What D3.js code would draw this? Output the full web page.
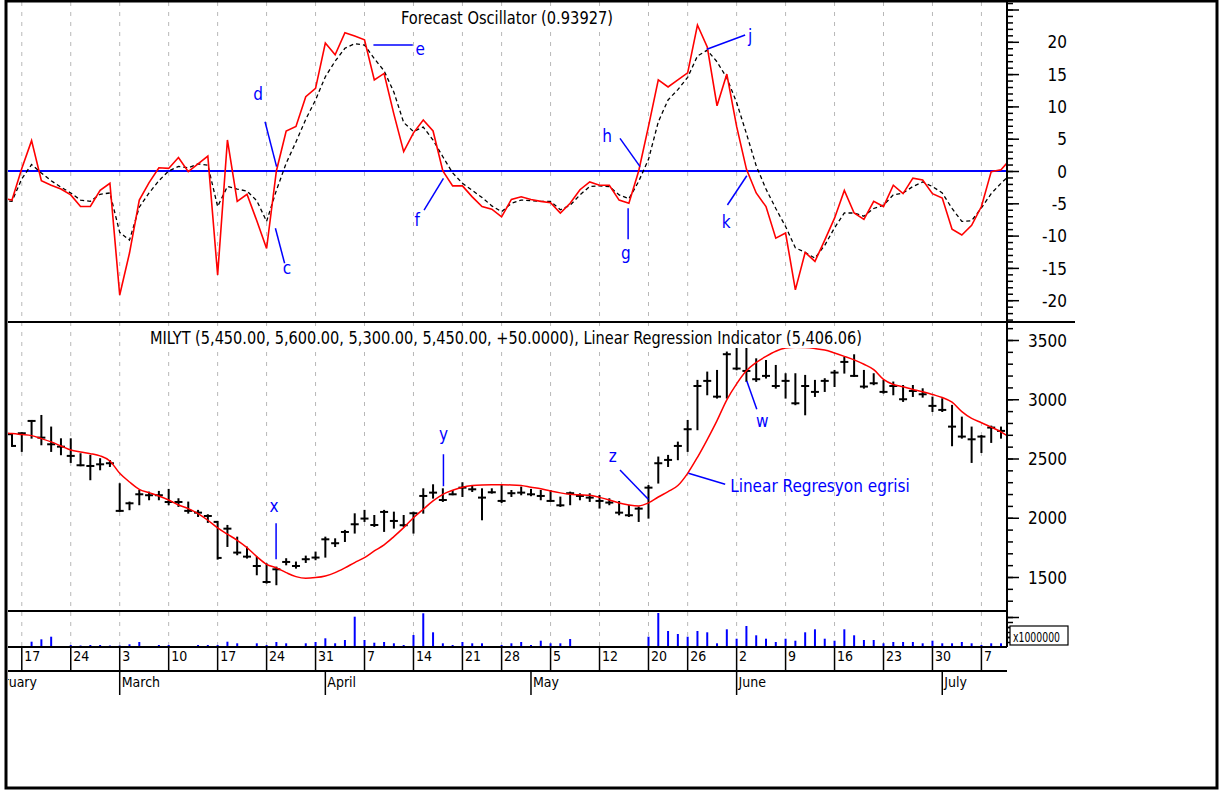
<!DOCTYPE html>
<html>
<head>
<meta charset="utf-8">
<script src="https://cdn.jsdelivr.net/npm/d3@7"></script>
<style>
    html, body { margin: 0; padding: 0; background: #ffffff; }
    svg { display: block; }
    text { font-family: 'Liberation Sans Narrow', 'DejaVu Sans Condensed', 'Arial Narrow', sans-serif; fill: #000; }
</style>
</head>
<body>
<svg id="chart" width="1219" height="790"></svg>
<script>
// ---- trading calendar ----
const startDate = '2003-02-13';
const endDate = '2003-07-10';
const holidays = ['2003-04-23', '2003-05-19'];

// ---- Forecast Oscillator (red) and its dashed signal line ----
const forecastOsc = [
    -4.2, -4.5, 0.4, 4.7, -1.5, -2.2, -2.8, -3.7, -5.5, -5.5,
    -3.0, -1.9, -19.2, -12.7, -4.5, -1.8, 0.5, 0.4, 2.1, -0.1,
    1.1, 2.3, -16.1, 4.8, -4.7, -3.6, -7.7, -12.0, 0.0, 6.2,
    6.9, 11.5, 12.8, 19.8, 18.0, 21.4, 20.9, 20.3, 14.1, 15.1,
    8.8, 3.0, 5.9, 7.9, 6.2, 0.0, -2.3, -2.3, -4.0, -5.5,
    -5.9, -7.1, -4.4, -4.0, -4.4, -4.7, -4.9, -6.5, -5.0, -2.9,
    -1.7, -2.2, -2.2, -4.5, -5.0, 0.0, 6.9, 14.1, 13.0, 14.1,
    15.2, 22.6, 19.2, 10.1, 15.0, 6.9, 0.3, -3.4, -5.5, -10.4,
    -9.6, -18.4, -12.6, -14.0, -10.7, -7.3, -3.0, -6.5, -7.5, -4.7,
    -5.5, -2.2, -3.5, -1.1, -1.4, -3.5, -4.2, -9.0, -9.9, -8.4,
    -5.5, -0.1, 0.2, 1.9
];
const oscSignal = [
    -4.6, -4.7, -1.2, 1.0, -0.3, -1.5, -2.5, -3.4, -4.5, -4.7,
    -3.6, -3.4, -9.5, -10.7, -5.6, -3.4, -1.5, 0.0, 0.7, 0.5,
    1.1, 0.9, -5.5, -2.4, -2.8, -3.1, -4.6, -7.8, -3.0, 1.2,
    4.5, 8.0, 11.0, 14.6, 17.0, 19.0, 19.7, 19.5, 17.4, 15.5,
    12.2, 7.5, 6.1, 6.8, 4.8, 2.2, -0.3, -1.9, -3.0, -4.1,
    -5.4, -6.3, -5.0, -4.5, -4.6, -4.7, -4.7, -6.0, -5.3, -3.7,
    -2.4, -2.3, -2.4, -3.7, -4.3, -1.6, 1.8, 7.6, 11.0, 12.6,
    14.5, 17.8, 18.7, 16.9, 14.4, 10.6, 5.8, 0.8, -2.8, -5.8,
    -8.6, -11.9, -12.6, -13.5, -11.5, -8.8, -6.5, -6.5, -7.0, -5.8,
    -5.3, -3.7, -3.4, -2.4, -1.7, -2.4, -3.4, -5.8, -7.8, -7.7,
    -5.7, -3.5, -1.9, -0.5
];

// ---- MILYT price bars ----
const priceHigh = [
    2720, 2705, 2713, 2817, 2859, 2761, 2662, 2662, 2536, 2522,
    2494, 2479, 2283, 2128, 2226, 2212, 2218, 2235, 2156, 2128,
    2058, 2021, 1965, 1931, 1832, 1748, 1664, 1607, 1579, 1650,
    1622, 1672, 1706, 1832, 1818, 1889, 2029, 2058, 2015, 2058,
    2043, 2015, 2043, 2240, 2274, 2240, 2226, 2291, 2268, 2240,
    2240, 2268, 2226, 2254, 2235, 2226, 2226, 2170, 2212, 2198,
    2198, 2184, 2156, 2133, 2100, 2086, 2268, 2508, 2522, 2634,
    2817, 3155, 3225, 3239, 3394, 3450, 3464, 3337, 3323, 3281,
    3211, 3211, 3197, 3155, 3169, 3239, 3351, 3371, 3239, 3211,
    3155, 3141, 3112, 3112, 3084, 3014, 3000, 2944, 2845, 2761,
    2690, 2769, 2761, 2760
];
const priceLow = [
    2640, 2606, 2564, 2676, 2620, 2564, 2536, 2471, 2443, 2325,
    2409, 2437, 2058, 2072, 2114, 2156, 2156, 2114, 2100, 2043,
    2015, 1965, 1655, 1762, 1692, 1664, 1523, 1453, 1439, 1607,
    1579, 1627, 1650, 1672, 1762, 1804, 1875, 1973, 1931, 1889,
    1917, 1931, 1875, 2043, 2170, 2142, 2198, 2184, 2226, 1987,
    2212, 2133, 2184, 2198, 2190, 2156, 2142, 2100, 2114, 2156,
    2142, 2086, 2114, 2029, 2015, 1973, 2001, 2297, 2437, 2494,
    2564, 2747, 3042, 3014, 3014, 3253, 3155, 3155, 3183, 3098,
    3014, 2958, 2873, 3028, 3070, 3112, 3225, 3197, 3098, 3127,
    3056, 3042, 2986, 3028, 3022, 2901, 2901, 2612, 2676, 2471,
    2555, 2640, 2676, 2680
];
const priceClose = [
    2700, 2606, 2713, 2817, 2676, 2620, 2600, 2522, 2443, 2437,
    2451, 2460, 2058, 2122, 2198, 2190, 2190, 2133, 2133, 2058,
    2043, 2015, 1661, 1908, 1706, 1672, 1593, 1458, 1565, 1627,
    1593, 1650, 1664, 1818, 1785, 1880, 1945, 1993, 1939, 2049,
    1973, 1937, 2038, 2184, 2212, 2150, 2198, 2254, 2240, 2170,
    2215, 2142, 2207, 2212, 2198, 2184, 2142, 2105, 2207, 2184,
    2170, 2142, 2128, 2043, 2021, 2077, 2254, 2460, 2488, 2606,
    2747, 3112, 3155, 3022, 3380, 3259, 3239, 3169, 3197, 3112,
    3155, 2966, 3112, 3062, 3155, 3225, 3315, 3197, 3107, 3135,
    3062, 3112, 3000, 3070, 3042, 2944, 2910, 2769, 2685, 2662,
    2685, 2761, 2733, 2740
];
const priceOpen = [
    2700, 2705, 2713, 2817, 2676, 2620, 2600, 2522, 2443, 2437,
    2451, 2460, 2058, 2122, 2198, 2190, 2190, 2133, 2133, 2058,
    2043, 2015, 1965, 1908, 1706, 1672, 1593, 1458, 1565, 1627,
    1593, 1650, 1664, 1818, 1785, 1880, 1945, 1993, 1939, 2049,
    1973, 1937, 2038, 2184, 2212, 2150, 2198, 2254, 2240, 2170,
    2215, 2142, 2207, 2212, 2198, 2184, 2142, 2105, 2207, 2184,
    2170, 2142, 2128, 2043, 2021, 2077, 2254, 2460, 2488, 2606,
    2747, 3112, 3155, 3022, 3380, 3259, 3239, 3169, 3197, 3112,
    3155, 2966, 3112, 3062, 3155, 3225, 3315, 3197, 3107, 3135,
    3062, 3112, 3000, 3070, 3042, 2944, 2910, 2769, 2685, 2662,
    2685, 2761, 2733, 2740
];
const linReg = [
    2715, 2710, 2702, 2693, 2668, 2640, 2606, 2572, 2555, 2541,
    2522, 2479, 2375, 2302, 2240, 2212, 2184, 2150, 2108, 2077,
    2035, 1979, 1914, 1861, 1810, 1748, 1672, 1607, 1577, 1537,
    1503, 1489, 1495, 1509, 1537, 1577, 1622, 1664, 1720, 1771,
    1841, 1917, 2000, 2072, 2142, 2198, 2232, 2258, 2272, 2277,
    2278, 2278, 2277, 2272, 2258, 2245, 2226, 2210, 2198, 2194,
    2190, 2172, 2150, 2124, 2108, 2100, 2125, 2175, 2220, 2272,
    2375, 2510, 2660, 2820, 2995, 3130, 3240, 3310, 3362, 3405,
    3432, 3438, 3436, 3428, 3415, 3390, 3362, 3332, 3295, 3250,
    3168, 3125, 3105, 3083, 3064, 3040, 3015, 2975, 2895, 2838,
    2802, 2765, 2725, 2670
];
// volume, in millions
const volume = [
    0, 0.3, 0.3, 5.3, 7.7, 10.3, 0.5, 2, 1.5, 2,
    2, 1.5, 1.5, 2.7, 5, 0.5, 2, 2, 0.5, 0.5,
    2, 2, 2, 5.3, 3.7, 0.5, 3.7, 2, 5, 3.7,
    0.5, 3.7, 5, 8.7, 3.7, 7, 30.3, 7, 4.3, 5,
    3.7, 2, 12, 33.7, 14.7, 3.7, 2, 5, 3.7, 3.7,
    0.5, 2, 3.7, 5, 2, 6.3, 3.7, 3.7, 8, 0.5,
    0.5, 0.5, 0.5, 0.5, 0.5, 0.5, 10.3, 34, 16, 13,
    10.3, 16, 14.7, 3.7, 17.7, 8.3, 21, 11.7, 8.3, 5,
    8.3, 6.3, 14.7, 17.7, 8.3, 6.3, 17.7, 11.7, 7, 7,
    3.7, 5, 5, 5, 3.7, 6.3, 3.7, 3.7, 5, 3.7,
    2, 3.7, 3.7, 3
];

// ---- texts and annotation anchors (bar index, value) ----
const oscTitle = 'Forecast Oscillator (0.93927)';
const priceTitle = 'MILYT (5,450.00, 5,600.00, 5,300.00, 5,450.00, +50.0000), Linear Regression Indicator (5,406.06)';
const volumeLabel = 'x1000000';
const oscNotes = [
    { label: 'd', from: [26.84, 7.63], to: [28.02, 0.67], at: [26.13, 11.0] },
    { label: 'c', from: [27.9, -8.87], to: [28.84, -14.29], at: [29.09, -16.0] },
    { label: 'e', from: [37.91, 19.5], to: [41.93, 19.5], at: [42.68, 18.0] },
    { label: 'f', from: [45.06, -1.13], to: [43.08, -6.04], at: [42.37, -8.5] },
    { label: 'g', from: [63.92, -5.77], to: [63.92, -10.57], at: [63.68, -13.6] },
    { label: 'h', from: [63.09, 5.06], to: [65.14, 0.67], at: [61.78, 4.5] },
    { label: 'j', from: [71.96, 18.84], to: [75.87, 21.05], at: [76.38, 20.0] },
    { label: 'k', from: [74.06, -5.26], to: [76.04, -0.73], at: [73.93, -8.8] }
];
const priceNotes = [
    { label: 'x', from: [27.97, 1954], to: [27.97, 1650], at: [27.76, 2046], anchor: 'middle' },
    { label: 'y', from: [45.06, 2536], to: [45.06, 2266], at: [45.06, 2654], anchor: 'middle' },
    { label: 'z', from: [63.09, 2403], to: [65.98, 2156], at: [62.34, 2468], anchor: 'middle' },
    { label: 'w', from: [76.04, 3154], to: [77.06, 2916], at: [77.61, 2764], anchor: 'middle' },
    { label: 'Linear Regresyon egrisi', from: [70.08, 2376], to: [73.83, 2283], at: [74.34, 2215], anchor: 'start' }
];

/**
 * ForecastChart - draws the three stacked panels and the date strip
 */
class ForecastChart {
    constructor(svg) {
        this.svg = svg;
        this.left = 8;
        this.right = 1007;
        this.oscTop = 2;
        this.oscBottom = 322;
        this.priceBottom = 611;
        this.volBottom = 647;
        this.dateBottom = 671;
        this.monthBottom = 695;
    }

    /**
     * Build calendar and scales
     */
    init() {
        const parse = d3.timeParse('%Y-%m-%d');
        const fmt = d3.timeFormat('%Y-%m-%d');
        const off = new Set(holidays);
        this.dates = d3.timeDay.range(parse(startDate), d3.timeDay.offset(parse(endDate), 1))
            .filter(d => d.getDay() !== 0 && d.getDay() !== 6 && !off.has(fmt(d)));
        const n = this.dates.length;

        this.x = d3.scalePoint().domain(d3.range(n)).range([2.2, 1010.8]);
        this.xi = d3.scaleLinear().domain([0, n - 1]).range([2.2, 1010.8]);
        this.yOsc = d3.scaleLinear().domain([-20, 20]).range([300.2, 41.8]);
        this.yPrice = d3.scaleLinear().domain([1500, 3500]).range([577, 340]);
        this.yVol = d3.scaleLinear().domain([0, 35]).range([647, 612]);

        this.weekStarts = d3.range(1, n).filter(i =>
            +d3.timeMonday.floor(this.dates[i]) !== +d3.timeMonday.floor(this.dates[i - 1]));
        this.monthStarts = d3.range(1, n).filter(i =>
            this.dates[i].getMonth() !== this.dates[i - 1].getMonth());

        this.svg.append('defs').append('clipPath').attr('id', 'plot-clip')
            .append('rect')
            .attr('x', this.left).attr('y', 0)
            .attr('width', this.right - this.left).attr('height', this.volBottom);
        this.plot = this.svg.append('g').attr('clip-path', 'url(#plot-clip)');
    }

    render() {
        this.drawGrid();
        this.drawTitles();
        this.drawOscillator();
        this.drawPrice();
        this.drawVolume();
        this.drawAxes();
        this.drawDates();
        this.drawFrame();
    }

    /**
     * Dashed weekly grid
     */
    drawGrid() {
        this.plot.append('g').selectAll('line')
            .data(this.weekStarts)
            .join('line')
            .attr('x1', i => this.x(i)).attr('x2', i => this.x(i))
            .attr('y1', this.oscTop).attr('y2', this.volBottom)
            .attr('stroke', '#b8b8b8')
            .attr('stroke-width', 1)
            .attr('stroke-dasharray', '4,6');
    }

    /**
     * Panel titles with white backing
     */
    drawTitles() {
        const titles = [
            { text: oscTitle, x: 401, y: 24, len: 212 },
            { text: priceTitle, x: 150, y: 344, len: 712 }
        ];
        titles.forEach(t => {
            this.svg.append('rect')
                .attr('x', t.x - 2).attr('y', t.y - 14)
                .attr('width', t.len + 4).attr('height', 18)
                .attr('fill', '#fff');
            this.svg.append('text')
                .attr('x', t.x).attr('y', t.y)
                .attr('font-size', '17px')
                .attr('textLength', t.len)
                .attr('lengthAdjust', 'spacingAndGlyphs')
                .text(t.text);
        });
    }

    /**
     * Forecast oscillator panel
     */
    drawOscillator() {
        const g = this.plot.append('g');
        g.append('line')
            .attr('x1', this.left).attr('x2', this.right)
            .attr('y1', this.yOsc(0)).attr('y2', this.yOsc(0))
            .attr('stroke', '#0000ff').attr('stroke-width', 2);

        const line = d3.line().x((d, i) => this.x(i)).y(d => this.yOsc(d));
        g.append('path').datum(oscSignal)
            .attr('d', line).attr('fill', 'none')
            .attr('stroke', '#000').attr('stroke-width', 1.3)
            .attr('stroke-dasharray', '4,3');
        g.append('path').datum(forecastOsc)
            .attr('d', line).attr('fill', 'none')
            .attr('stroke', '#ff0000').attr('stroke-width', 1.6);

        this.drawNotes(g, oscNotes, this.yOsc);
    }

    /**
     * Price bars and linear regression curve
     */
    drawPrice() {
        const g = this.plot.append('g');
        const bars = g.append('g').selectAll('g')
            .data(priceClose.map((c, i) => ({ i, o: priceOpen[i], h: priceHigh[i], l: priceLow[i], c })))
            .join('g')
            .attr('stroke', '#000').attr('stroke-width', 2);
        bars.append('line')
            .attr('x1', d => this.x(d.i)).attr('x2', d => this.x(d.i))
            .attr('y1', d => this.yPrice(d.h) - 1).attr('y2', d => this.yPrice(d.l) + 1);
        bars.append('line')
            .attr('x1', d => this.x(d.i) - 4).attr('x2', d => this.x(d.i))
            .attr('y1', d => this.yPrice(d.o)).attr('y2', d => this.yPrice(d.o));
        bars.append('line')
            .attr('x1', d => this.x(d.i)).attr('x2', d => this.x(d.i) + 4)
            .attr('y1', d => this.yPrice(d.c)).attr('y2', d => this.yPrice(d.c));

        const line = d3.line().x((d, i) => this.x(i)).y(d => this.yPrice(d)).curve(d3.curveMonotoneX);
        g.append('path').datum(linReg)
            .attr('d', line).attr('fill', 'none')
            .attr('stroke', '#ff0000').attr('stroke-width', 1.5);

        this.drawNotes(g, priceNotes, this.yPrice);
    }

    /**
     * Blue annotation strokes and letters
     */
    drawNotes(g, notes, y) {
        g.append('g').selectAll('line')
            .data(notes)
            .join('line')
            .attr('x1', d => this.xi(d.from[0])).attr('y1', d => y(d.from[1]))
            .attr('x2', d => this.xi(d.to[0])).attr('y2', d => y(d.to[1]))
            .attr('stroke', '#0000ff').attr('stroke-width', 1.5);
        g.append('g').selectAll('text')
            .data(notes)
            .join('text')
            .attr('x', d => this.xi(d.at[0])).attr('y', d => y(d.at[1]))
            .attr('text-anchor', d => d.anchor || 'middle')
            .attr('font-size', '17px')
            .style('fill', '#0000ff')
            .text(d => d.label);
    }

    /**
     * Volume histogram
     */
    drawVolume() {
        this.plot.append('g').selectAll('line')
            .data(volume)
            .join('line')
            .attr('x1', (d, i) => this.x(i)).attr('x2', (d, i) => this.x(i))
            .attr('y1', this.yVol(0)).attr('y2', d => this.yVol(d))
            .attr('stroke', '#0000ff').attr('stroke-width', 2);
    }

    /**
     * Right hand axes
     */
    addAxis(scale, values, size, format) {
        const g = this.svg.append('g')
            .attr('transform', `translate(${this.right},0)`)
            .call(d3.axisRight(scale).tickValues(values).tickSize(size).tickFormat(format || (() => '')));
        g.select('.domain').remove();
        g.selectAll('.tick line').attr('stroke', '#000').attr('stroke-width', 1.5);
        g.selectAll('.tick text')
            .attr('x', 60).attr('dy', '0.36em')
            .attr('text-anchor', 'end')
            .attr('font-size', '17px')
            .attr('font-family', null);
        return g;
    }

    drawAxes() {
        this.addAxis(this.yOsc, d3.range(-23, 27), 6);
        this.addAxis(this.yOsc, d3.range(-20, 26, 5), 12, d => (d <= 20 ? String(d) : ''));
        this.addAxis(this.yPrice, d3.range(1300, 3700, 100), 6);
        this.addAxis(this.yPrice, d3.range(1500, 4000, 500), 12, d => String(d));
        this.addAxis(this.yVol, d3.range(5, 35, 5), 6);
        this.addAxis(this.yVol, [10, 20, 30], 12);

        this.svg.append('line')
            .attr('x1', this.right).attr('x2', this.right)
            .attr('y1', 0).attr('y2', this.volBottom)
            .attr('stroke', '#000').attr('stroke-width', 2);

        // volume multiplier box
        this.svg.append('rect')
            .attr('x', 1010).attr('y', 626).attr('width', 58).attr('height', 19)
            .attr('fill', '#fff').attr('stroke', '#000').attr('stroke-width', 1.2);
        this.svg.append('text')
            .attr('x', 1013).attr('y', 642)
            .attr('font-size', '14px')
            .attr('textLength', 47).attr('lengthAdjust', 'spacingAndGlyphs')
            .text(volumeLabel);
    }

    /**
     * Day and month strips under the chart
     */
    drawDates() {
        const g = this.svg.append('g');
        const hline = (y, x2) => g.append('line')
            .attr('x1', this.left).attr('x2', x2)
            .attr('y1', y).attr('y2', y)
            .attr('stroke', '#000').attr('stroke-width', 2);
        hline(this.oscBottom, 1075);
        hline(this.priceBottom, this.right);
        hline(this.volBottom, this.right);
        hline(this.dateBottom, this.right);

        const dayFmt = d3.timeFormat('%-d');
        const monthFmt = d3.timeFormat('%B');
        const strip = g.append('g').attr('clip-path', 'url(#date-clip)');
        this.svg.select('defs').append('clipPath').attr('id', 'date-clip')
            .append('rect')
            .attr('x', this.left).attr('y', this.volBottom)
            .attr('width', this.right - this.left).attr('height', 60);

        strip.selectAll('.wk').data(this.weekStarts).join('line').attr('class', 'wk')
            .attr('x1', i => this.x(i)).attr('x2', i => this.x(i))
            .attr('y1', this.volBottom).attr('y2', this.dateBottom)
            .attr('stroke', '#000').attr('stroke-width', 1.5);
        strip.selectAll('.wkt').data(this.weekStarts).join('text').attr('class', 'wkt')
            .attr('x', i => this.x(i) + 2.5).attr('y', 661)
            .attr('font-size', '14px')
            .text(i => dayFmt(this.dates[i]));

        strip.selectAll('.mo').data(this.monthStarts).join('line').attr('class', 'mo')
            .attr('x1', i => this.x(i)).attr('x2', i => this.x(i))
            .attr('y1', this.dateBottom).attr('y2', this.monthBottom)
            .attr('stroke', '#000').attr('stroke-width', 1.5);
        strip.selectAll('.mot').data(this.monthStarts).join('text').attr('class', 'mot')
            .attr('x', i => this.x(i) + 2).attr('y', 687)
            .attr('font-size', '14px')
            .text(i => monthFmt(this.dates[i]));
        // month already running at the left edge (cut off, as in the source)
        strip.append('text')
            .attr('x', 37).attr('y', 687)
            .attr('text-anchor', 'end')
            .attr('font-size', '14px')
            .text(monthFmt(this.dates[0]));
    }

    /**
     * Outer border
     */
    drawFrame() {
        this.svg.append('rect')
            .attr('x', 6).attr('y', 1)
            .attr('width', 1211).attr('height', 787)
            .attr('fill', 'none')
            .attr('stroke', '#000').attr('stroke-width', 3);
    }
}

const chart = new ForecastChart(d3.select('#chart'));
chart.init();
chart.render();
</script>
</body>
</html>
